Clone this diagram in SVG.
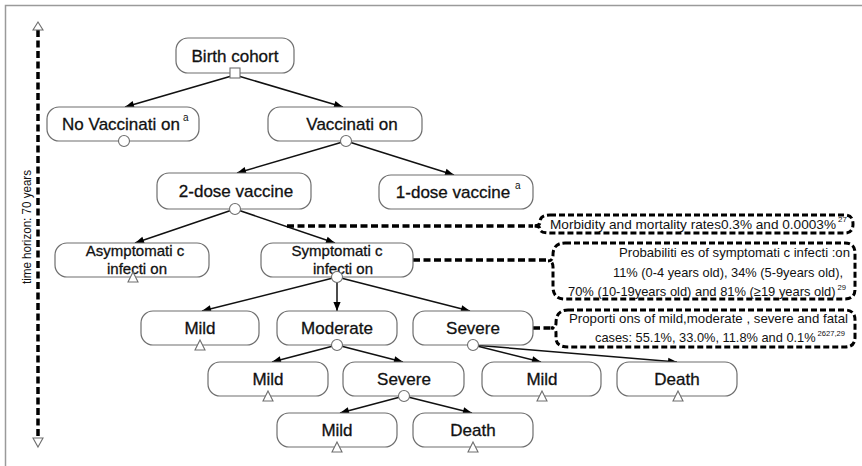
<svg xmlns="http://www.w3.org/2000/svg" width="862" height="466" viewBox="0 0 862 466">
<defs>
<marker id="ah" viewBox="0 0 10 10" refX="10" refY="5" markerWidth="10" markerHeight="9" markerUnits="userSpaceOnUse" orient="auto"><path d="M0,1 L10,5 L0,9 z" fill="#000"/></marker>
</defs>
<style>
.node{fill:#fff;stroke:#6e6e6e;stroke-width:1.2}
.lbl{font-family:"Liberation Sans",Arial,sans-serif;font-size:17px;fill:#111;stroke:#111;stroke-width:0.3;text-anchor:middle}
.lbl2{font-size:15px}
.sup{font-family:"Liberation Sans",Arial,sans-serif;font-size:10px;fill:#111}
.edge{stroke:#111;stroke-width:1.5;fill:none;marker-end:url(#ah)}
.mark{fill:#fff;stroke:#6e6e6e;stroke-width:1.1}
.dash{stroke:#000;stroke-width:3.5;stroke-dasharray:7 3.5;fill:none}
.call{stroke:#000;stroke-width:3;stroke-dasharray:6 3;fill:#fff}
.note{font-family:"Liberation Sans",Arial,sans-serif;font-size:13.5px;fill:#111}
.nsup{font-family:"Liberation Sans",Arial,sans-serif;font-size:8px;fill:#111}
</style>
<rect width="862" height="466" fill="#fff"/>
<path d="M5.5,466 V5.5 H862" fill="none" stroke="#9a9a9a" stroke-width="1.5"/>

<g id="timeline">
<line class="dash" x1="38" y1="30" x2="38" y2="438"/>
<path class="mark" d="M38,22 L43,30 L33,30 Z"/>
<path class="mark" d="M38,447 L43,438 L33,438 Z"/>
<text transform="translate(31,227) rotate(-90)" font-family="Liberation Sans, Arial, sans-serif" font-size="13" fill="#111" text-anchor="middle" textLength="114" lengthAdjust="spacingAndGlyphs">time horizon: 70 years</text>
</g>

<g id="connectors">
<line class="edge" x1="235" y1="75" x2="125" y2="107"/>
<line class="edge" x1="235" y1="75" x2="343" y2="107"/>
<line class="edge" x1="346" y1="141" x2="237" y2="173"/>
<line class="edge" x1="346" y1="141" x2="454" y2="175"/>
<line class="edge" x1="235" y1="209" x2="135" y2="243"/>
<line class="edge" x1="235" y1="209" x2="335" y2="243"/>
<line class="edge" x1="337" y1="277" x2="202" y2="311"/>
<line class="edge" x1="337" y1="277" x2="337" y2="311"/>
<line class="edge" x1="337" y1="277" x2="470" y2="311"/>
<line class="edge" x1="337" y1="345" x2="272" y2="362"/>
<line class="edge" x1="337" y1="345" x2="403" y2="362"/>
<line class="edge" x1="473" y1="345" x2="541" y2="362"/>
<line class="edge" x1="473" y1="345" x2="677" y2="362"/>
<line class="edge" x1="404" y1="396" x2="340" y2="413"/>
<line class="edge" x1="404" y1="396" x2="472" y2="413"/>
<line class="dash" x1="287" y1="226" x2="533" y2="226"/>
<line class="dash" x1="413" y1="260" x2="549" y2="260"/>
<line class="dash" x1="533" y1="328" x2="552" y2="328"/>
</g>

<g id="n-birth">
<rect class="node" x="176" y="38" width="118" height="35" rx="12"/>
<text class="lbl" x="235" y="62">Birth cohort</text>
<rect class="mark" x="230" y="68" width="10" height="10"/>
</g>
<g id="n-novacc">
<rect class="node" x="47" y="107" width="152" height="34" rx="12"/>
<text class="lbl" x="121" y="130">No Vaccinati on</text>
<text class="sup" x="183" y="121">a</text>
<circle class="mark" cx="124" cy="141" r="5.5"/>
</g>
<g id="n-vacc">
<rect class="node" x="268" y="107" width="154" height="34" rx="12"/>
<text class="lbl" x="352" y="130">Vaccinati  on</text>
<circle class="mark" cx="346" cy="141" r="5.5"/>
</g>
<g id="n-2dose">
<rect class="node" x="157" y="173" width="154" height="36" rx="12"/>
<text class="lbl" x="236" y="197">2-dose vaccine</text>
<circle class="mark" cx="235" cy="209" r="5.5"/>
</g>
<g id="n-1dose">
<rect class="node" x="379" y="175" width="154" height="34" rx="12"/>
<text class="lbl" x="453" y="198">1-dose vaccine</text>
<text class="sup" x="515" y="189">a</text>
</g>
<g id="n-asym">
<rect class="node" x="55" y="243" width="154" height="34" rx="12"/>
<text class="lbl lbl2" x="135" y="256">Asymptomati c</text>
<text class="lbl lbl2" x="137" y="274">infecti on</text>
<path class="mark" d="M133,272 L138,282 L128,282 Z"/>
</g>
<g id="n-sym">
<rect class="node" x="261" y="243" width="152" height="34" rx="12"/>
<text class="lbl lbl2" x="337" y="256">Symptomati c</text>
<text class="lbl lbl2" x="343" y="274">infecti on</text>
<circle class="mark" cx="337" cy="277" r="5.5"/>
</g>
<g id="n-mild1">
<rect class="node" x="141" y="311" width="118" height="34" rx="12"/>
<text class="lbl" x="200" y="334">Mild</text>
<path class="mark" d="M200,340 L205,350 L195,350 Z"/>
</g>
<g id="n-moderate">
<rect class="node" x="277" y="311" width="120" height="34" rx="12"/>
<text class="lbl" x="337" y="334">Moderate</text>
<circle class="mark" cx="337" cy="345" r="5.5"/>
</g>
<g id="n-severe1">
<rect class="node" x="413" y="311" width="120" height="34" rx="12"/>
<text class="lbl" x="473" y="334">Severe</text>
<circle class="mark" cx="473" cy="345" r="5.5"/>
</g>
<g id="n-mild2">
<rect class="node" x="208" y="362" width="120" height="34" rx="12"/>
<text class="lbl" x="268" y="385">Mild</text>
<path class="mark" d="M268,391 L273,401 L263,401 Z"/>
</g>
<g id="n-severe2">
<rect class="node" x="343" y="362" width="121" height="34" rx="12"/>
<text class="lbl" x="404" y="385">Severe</text>
<circle class="mark" cx="404" cy="396" r="5.5"/>
</g>
<g id="n-mild3">
<rect class="node" x="482" y="362" width="119" height="34" rx="12"/>
<text class="lbl" x="542" y="385">Mild</text>
<path class="mark" d="M542,391 L547,401 L537,401 Z"/>
</g>
<g id="n-death1">
<rect class="node" x="617" y="362" width="120" height="34" rx="12"/>
<text class="lbl" x="677" y="385">Death</text>
<path class="mark" d="M678,391 L683,401 L673,401 Z"/>
</g>
<g id="n-mild4">
<rect class="node" x="277" y="413" width="120" height="34" rx="12"/>
<text class="lbl" x="337" y="436">Mild</text>
<path class="mark" d="M337,442 L342,452 L332,452 Z"/>
</g>
<g id="n-death2">
<rect class="node" x="413" y="413" width="120" height="34" rx="12"/>
<text class="lbl" x="473" y="436">Death</text>
<path class="mark" d="M473,442 L478,452 L468,452 Z"/>
</g>

<g id="note-morbidity">
<path class="call" d="M550,215 H845 Q853,215 853,224 Q853,233 845,233 H550 Q540,233 540,229 Q540,226 533,226 Q540,226 540,222 Q540,215 550,215 Z"/>
<text class="note" x="550" y="229" textLength="286" lengthAdjust="spacingAndGlyphs">Morbidity and mortality rates0.3% and 0.0003%</text>
<text class="nsup" x="838" y="222">27</text>
</g>
<g id="note-prob">
<path class="call" d="M565,243 H845 Q855,243 855,253 V289 Q855,299 845,299 H565 Q553,299 553,287 V267 Q553,261 548,261 Q553,261 553,255 Q553,243 565,243 Z"/>
<text class="note" x="619" y="257" textLength="231" lengthAdjust="spacingAndGlyphs">Probabiliti es of symptomati c infecti :on</text>
<text class="note" x="613" y="277" font-size="13" textLength="230" lengthAdjust="spacingAndGlyphs">11% (0-4 years old), 34% (5-9years old),</text>
<text class="note" x="568" y="296" font-size="12.4" textLength="278" lengthAdjust="spacingAndGlyphs">70% (10-19years old) and 81% (≥19 years old)<tspan font-size="8" dx="2" dy="-6">29</tspan></text>
</g>
<g id="note-prop">
<path class="call" d="M568,310 H845 Q855,310 855,320 V337 Q855,347 845,347 H568 Q556,347 556,338 V333 Q556,328 551,328 Q556,328 556,323 Q556,310 568,310 Z"/>
<text class="note" x="569" y="323" textLength="279" lengthAdjust="spacingAndGlyphs">Proporti ons of mild,moderate , severe and fatal</text>
<text class="note" x="595" y="342" font-size="11.8" textLength="250" lengthAdjust="spacingAndGlyphs">cases: 55.1%, 33.0%, 11.8% and 0.1%<tspan font-size="8" dx="2" dy="-6">2627,29</tspan></text>
</g>
</svg>
